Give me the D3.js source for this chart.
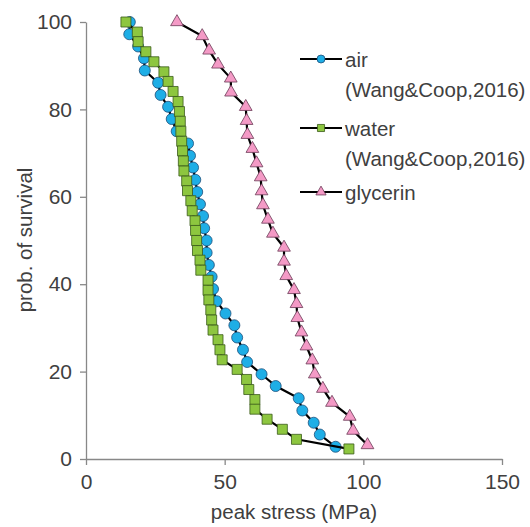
<!DOCTYPE html>
<html><head><meta charset="utf-8">
<script src="https://cdn.jsdelivr.net/npm/d3@7"></script>
<style>body{margin:0;background:#fff}svg{display:block}</style>
</head><body>
<svg id="c" width="530" height="527"></svg>
<script>
const airX = [15.8,15.6,18.8,20.9,21.2,26.0,26.9,29.6,30.9,32.7,36.8,37.5,38.6,39.4,40.1,41.1,42.2,42.6,43.5,43.5,44.3,45.3,45.8,47.1,50.3,53.5,54.5,56.6,58.1,63.3,68.4,76.7,78.0,82.1,84.3,90.0];
const airY = [100,97.2,94.4,91.7,88.9,86.1,83.3,80.6,77.8,75.0,72.2,69.4,66.7,63.9,61.1,58.3,55.6,52.8,50.0,47.2,44.4,41.7,38.9,36.1,33.3,30.6,27.8,25.0,22.2,19.4,16.7,13.9,11.1,8.3,5.6,2.8];
const waterX = [14.4,18.5,18.8,21.6,24.5,28.1,29.6,31.4,33.2,33.7,34.0,34.2,34.5,34.8,35.1,35.3,36.3,36.6,37.8,38.3,39.3,39.5,39.9,40.2,41.1,41.4,44.0,44.0,44.3,45.0,45.3,45.8,47.6,48.3,49.1,54.5,57.9,58.7,60.9,60.9,65.3,70.8,75.9,94.8];
const waterY = [100,97.7,95.5,93.2,90.9,88.6,86.4,84.1,81.8,79.5,77.3,75.0,72.7,70.5,68.2,65.9,63.6,61.4,59.1,56.8,54.5,52.3,50.0,47.7,45.5,43.2,40.9,38.6,36.4,34.1,31.8,29.5,27.3,25.0,22.7,20.5,18.2,15.9,13.6,11.4,9.1,6.8,4.5,2.3];
const glyX = [32.8,41.9,44.4,47.6,52.2,52.3,57.6,57.9,58.2,60.0,61.5,63.0,63.3,63.8,65.6,67.4,71.4,71.4,72.2,75.0,75.9,76.2,77.7,79.5,81.6,82.5,85.4,88.7,95.1,96.3,101.5];
const glyY = [100,96.8,93.5,90.3,87.1,83.9,80.6,77.4,74.2,71.0,67.7,64.5,61.3,58.1,54.8,51.6,48.4,45.2,41.9,38.7,35.5,32.3,29.0,25.8,22.6,19.4,16.1,12.9,9.7,6.5,3.2];
const xTicks = [0,50,100,150];
const yTicks = [0,20,40,60,80,100];
const seriesNames = [["air","(Wang&Coop,2016)"],["water","(Wang&Coop,2016)"],["glycerin"]];
const xTitle = "peak stress (MPa)";
const yTitle = "prob. of survival";

const series = [
  {x: airX, y: airY, name: seriesNames[0], shape: "circle", fill: "#1EAEE6", stroke: "#1d4e7a"},
  {x: waterX, y: waterY, name: seriesNames[1], shape: "square", fill: "#8DC63F", stroke: "#3a5a1a"},
  {x: glyX, y: glyY, name: seriesNames[2], shape: "triangle", fill: "#F49AC6", stroke: "#6a3a55"}
];

const svg = d3.select("#c");
const font = "'Liberation Sans', Arial, sans-serif";
const textCol = "#404040";
const axisCol = "#888";
const x = d3.scaleLinear().domain([0,150]).range([86,502]);
const y = d3.scaleLinear().domain([0,100]).range([459,22]);

// axes
const xa = svg.append("g").attr("transform","translate(0,459)")
  .call(d3.axisBottom(x).tickValues(xTicks).tickSize(6).tickSizeOuter(0).tickPadding(9));
const ya = svg.append("g").attr("transform","translate(86,0)")
  .call(d3.axisLeft(y).tickValues(yTicks).tickSize(6).tickSizeOuter(0).tickPadding(8));
[xa,ya].forEach(g=>{
  g.selectAll("path,line").attr("stroke",axisCol).attr("stroke-width",1.3);
  g.selectAll("text").attr("fill",textCol).style("font-family",font).style("font-size","21px");
});
svg.append("text").attr("x",294).attr("y",519).attr("text-anchor","middle")
  .attr("fill",textCol).style("font-family",font).style("font-size","20.5px").text(xTitle);
svg.append("text").attr("transform","translate(32,240) rotate(-90)").attr("text-anchor","middle")
  .attr("fill",textCol).style("font-family",font).style("font-size","20.5px").text(yTitle);

function sym(shape){
  if(shape==="circle") return d3.symbol(d3.symbolCircle, 95)();
  if(shape==="square") return d3.symbol(d3.symbolSquare, 100)();
  return d3.symbol(d3.symbolTriangle, 70)();
}
const line = d3.line().x(d=>x(d[0])).y(d=>y(d[1]));
series.forEach(s=>{
  const pts = s.x.map((v,i)=>[v,s.y[i]]);
  const g = svg.append("g");
  g.append("path").attr("d",line(pts)).attr("fill","none").attr("stroke","#000").attr("stroke-width",2.2);
  g.selectAll("path.m").data(pts).enter().append("path").attr("class","m")
    .attr("transform",d=>`translate(${x(d[0])},${y(d[1])})`)
    .attr("d",sym(s.shape)).attr("fill",s.fill).attr("stroke",s.stroke).attr("stroke-width",0.8);
});

// legend
const legY = [59, 128, 192];
series.forEach((s,i)=>{
  const g = svg.append("g").attr("transform",`translate(0,${legY[i]})`);
  g.append("line").attr("x1",300).attr("x2",342).attr("y1",0).attr("y2",0).attr("stroke","#000").attr("stroke-width",2.2);
  g.append("path").attr("transform","translate(321,0)").attr("d",
    s.shape==="circle"?d3.symbol(d3.symbolCircle,50)():s.shape==="square"?d3.symbol(d3.symbolSquare,50)():d3.symbol(d3.symbolTriangle,45)())
    .attr("fill",s.fill).attr("stroke",s.stroke).attr("stroke-width",0.8);
  s.name.forEach((t,j)=>{
    g.append("text").attr("x",345).attr("y",j*30+7.5).attr("fill",textCol)
      .style("font-family",font).style("font-size","20.5px").text(t);
  });
});
</script>
</body></html>
